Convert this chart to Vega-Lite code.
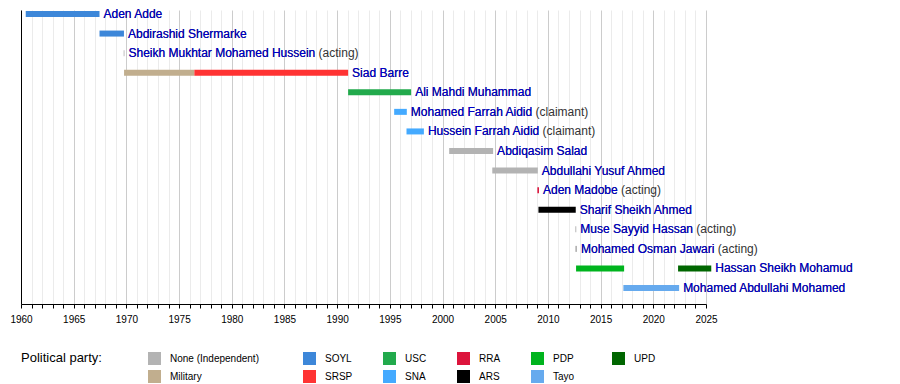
{
  "$schema": "https://vega.github.io/schema/vega-lite/v6.json",
  "width": 685,
  "height": 294,
  "autosize": {"type": "none"},
  "padding": {"left": 21, "top": 10, "right": 194, "bottom": 80},
  "background": "white",
  "config": {"font": "Liberation Sans", "view": {"stroke": null}},
  "datasets": {
    "terms": [
      {"name": "Aden Adde", "party": "SOYL", "start": 1960.45, "end": 1967.45},
      {"name": "Abdirashid Shermarke", "party": "SOYL", "start": 1967.45, "end": 1969.77},
      {"name": "Sheikh Mukhtar Mohamed Hussein", "party": "None (Independent)", "start": 1969.74, "end": 1969.82},
      {"name": "Siad Barre", "party": "Military", "start": 1969.78, "end": 1976.45},
      {"name": "Siad Barre", "party": "SRSP", "start": 1976.45, "end": 1991.04},
      {"name": "Ali Mahdi Muhammad", "party": "USC", "start": 1991.04, "end": 1997.02},
      {"name": "Mohamed Farrah Aidid", "party": "SNA", "start": 1995.41, "end": 1996.61},
      {"name": "Hussein Farrah Aidid", "party": "SNA", "start": 1996.58, "end": 1998.23},
      {"name": "Abdiqasim Salad", "party": "None (Independent)", "start": 2000.63, "end": 2004.8},
      {"name": "Abdullahi Yusuf Ahmed", "party": "None (Independent)", "start": 2004.72, "end": 2009.04},
      {"name": "Aden Madobe", "party": "RRA", "start": 2009.0, "end": 2009.15},
      {"name": "Sharif Sheikh Ahmed", "party": "ARS", "start": 2009.1, "end": 2012.64},
      {"name": "Muse Sayyid Hassan", "party": "None (Independent)", "start": 2012.6, "end": 2012.69},
      {"name": "Mohamed Osman Jawari", "party": "None (Independent)", "start": 2012.6, "end": 2012.76},
      {"name": "Hassan Sheikh Mohamud", "party": "PDP", "start": 2012.67, "end": 2017.23},
      {"name": "Hassan Sheikh Mohamud", "party": "UPD", "start": 2022.35, "end": 2025.5},
      {"name": "Mohamed Abdullahi Mohamed", "party": "Tayo", "start": 2017.16, "end": 2022.45}
    ],
    "people": [
      {"name": "Aden Adde", "full": "Aden Adde", "end": 1967.45},
      {"name": "Abdirashid Shermarke", "full": "Abdirashid Shermarke", "end": 1969.77},
      {"name": "Sheikh Mukhtar Mohamed Hussein", "full": "Sheikh Mukhtar Mohamed Hussein (acting)", "end": 1969.82},
      {"name": "Siad Barre", "full": "Siad Barre", "end": 1991.04},
      {"name": "Ali Mahdi Muhammad", "full": "Ali Mahdi Muhammad", "end": 1997.02},
      {"name": "Mohamed Farrah Aidid", "full": "Mohamed Farrah Aidid (claimant)", "end": 1996.61},
      {"name": "Hussein Farrah Aidid", "full": "Hussein Farrah Aidid (claimant)", "end": 1998.23},
      {"name": "Abdiqasim Salad", "full": "Abdiqasim Salad", "end": 2004.8},
      {"name": "Abdullahi Yusuf Ahmed", "full": "Abdullahi Yusuf Ahmed", "end": 2009.04},
      {"name": "Aden Madobe", "full": "Aden Madobe (acting)", "end": 2009.15},
      {"name": "Sharif Sheikh Ahmed", "full": "Sharif Sheikh Ahmed", "end": 2012.64},
      {"name": "Muse Sayyid Hassan", "full": "Muse Sayyid Hassan (acting)", "end": 2012.69},
      {"name": "Mohamed Osman Jawari", "full": "Mohamed Osman Jawari (acting)", "end": 2012.76},
      {"name": "Hassan Sheikh Mohamud", "full": "Hassan Sheikh Mohamud", "end": 2025.5},
      {"name": "Mohamed Abdullahi Mohamed", "full": "Mohamed Abdullahi Mohamed", "end": 2022.45}
    ]
  },
  "layer": [
    {
      "data": {"name": "terms"},
      "mark": {"type": "bar", "height": 6},
      "encoding": {
        "y": {
          "field": "name", "type": "nominal",
          "scale": {
            "type": "point", "padding": 0.51, "align": 0.2, "round": false,
            "domain": ["Aden Adde", "Abdirashid Shermarke", "Sheikh Mukhtar Mohamed Hussein", "Siad Barre", "Ali Mahdi Muhammad", "Mohamed Farrah Aidid", "Hussein Farrah Aidid", "Abdiqasim Salad", "Abdullahi Yusuf Ahmed", "Aden Madobe", "Sharif Sheikh Ahmed", "Muse Sayyid Hassan", "Mohamed Osman Jawari", "Hassan Sheikh Mohamud", "Mohamed Abdullahi Mohamed"]
          },
          "axis": {"title": null, "labels": false, "ticks": false, "grid": false, "domainColor": "#000000", "domainWidth": 1}
        },
        "x": {
          "field": "start", "type": "quantitative",
          "scale": {"domain": [1960, 2025], "nice": false, "zero": false},
          "axis": {
            "title": null,
            "values": [1960,1961,1962,1963,1964,1965,1966,1967,1968,1969,1970,1971,1972,1973,1974,1975,1976,1977,1978,1979,1980,1981,1982,1983,1984,1985,1986,1987,1988,1989,1990,1991,1992,1993,1994,1995,1996,1997,1998,1999,2000,2001,2002,2003,2004,2005,2006,2007,2008,2009,2010,2011,2012,2013,2014,2015,2016,2017,2018,2019,2020,2021,2022,2023,2024,2025],
            "format": "d",
            "labelExpr": "datum.value % 5 === 0 ? datum.label : ''",
            "labelFontSize": 10,
            "labelColor": "#000000",
            "labelPadding": 6,
            "labelOverlap": false,
            "labelFlush": false,
            "labelBound": false,
            "tickSize": 4,
            "tickColor": "#000000",
            "domainColor": "#000000",
            "grid": true,
            "gridColor": {"condition": {"test": "datum.value % 5 === 0", "value": "#cccccc"}, "value": "#ebebeb"}
          }
        },
        "x2": {"field": "end"},
        "color": {
          "field": "party", "type": "nominal",
          "scale": {
            "domain": ["None (Independent)", "Military", "SOYL", "SRSP", "USC", "SNA", "RRA", "ARS", "PDP", "Tayo", "UPD"],
            "range": ["#b3b3b3", "#c1ae8e", "#3d87d9", "#ff3333", "#22aa4c", "#44aaff", "#dc143c", "#000000", "#00b41e", "#66aaee", "#006600"]
          },
          "legend": {
            "orient": "none",
            "legendX": 0,
            "legendY": 342,
            "columns": 6,
            "title": "Political party:",
            "titleOrient": "left",
            "titleAnchor": "start",
            "titleBaseline": "top",
            "titleFontSize": 13,
            "titleFontWeight": "normal",
            "titleColor": "#000000",
            "titlePadding": 46,
            "symbolType": "square",
            "symbolSize": 169,
            "symbolStrokeWidth": 0,
            "symbolOpacity": 1,
            "labelFontSize": 10,
            "labelColor": "#000000",
            "labelOffset": 9,
            "columnPadding": 30,
            "rowPadding": 5,
            "labelExpr": "datum.label === 'None (Independent)' ? 'None (Independent)\u2800\u2800' : datum.label === 'Tayo' ? 'Tayo\u2800' : datum.label"
          }
        }
      }
    },
    {
      "data": {"name": "people"},
      "mark": {"type": "text", "align": "left", "baseline": "middle", "dx": 4, "fontSize": 12, "color": "#333333"},
      "encoding": {
        "y": {"field": "name", "type": "nominal"},
        "x": {
          "field": "end", "type": "quantitative",
          "axis": {
            "title": null,
            "values": [1960,1961,1962,1963,1964,1965,1966,1967,1968,1969,1970,1971,1972,1973,1974,1975,1976,1977,1978,1979,1980,1981,1982,1983,1984,1985,1986,1987,1988,1989,1990,1991,1992,1993,1994,1995,1996,1997,1998,1999,2000,2001,2002,2003,2004,2005,2006,2007,2008,2009,2010,2011,2012,2013,2014,2015,2016,2017,2018,2019,2020,2021,2022,2023,2024,2025],
            "format": "d",
            "labelExpr": "datum.value % 5 === 0 ? datum.label : ''",
            "labelFontSize": 10,
            "labelColor": "#000000",
            "labelPadding": 6,
            "labelOverlap": false,
            "labelFlush": false,
            "labelBound": false,
            "tickSize": 4,
            "tickColor": "#000000",
            "domainColor": "#000000",
            "grid": true,
            "gridColor": {"condition": {"test": "datum.value % 5 === 0", "value": "#cccccc"}, "value": "#ebebeb"}
          }
        },
        "text": {"field": "full"}
      }
    },
    {
      "data": {"name": "people"},
      "mark": {"type": "text", "align": "left", "baseline": "middle", "dx": 4, "fontSize": 12, "color": "#0000cc"},
      "encoding": {
        "y": {"field": "name", "type": "nominal"},
        "x": {
          "field": "end", "type": "quantitative",
          "axis": {
            "title": null,
            "values": [1960,1961,1962,1963,1964,1965,1966,1967,1968,1969,1970,1971,1972,1973,1974,1975,1976,1977,1978,1979,1980,1981,1982,1983,1984,1985,1986,1987,1988,1989,1990,1991,1992,1993,1994,1995,1996,1997,1998,1999,2000,2001,2002,2003,2004,2005,2006,2007,2008,2009,2010,2011,2012,2013,2014,2015,2016,2017,2018,2019,2020,2021,2022,2023,2024,2025],
            "format": "d",
            "labelExpr": "datum.value % 5 === 0 ? datum.label : ''",
            "labelFontSize": 10,
            "labelColor": "#000000",
            "labelPadding": 6,
            "labelOverlap": false,
            "labelFlush": false,
            "labelBound": false,
            "tickSize": 4,
            "tickColor": "#000000",
            "domainColor": "#000000",
            "grid": true,
            "gridColor": {"condition": {"test": "datum.value % 5 === 0", "value": "#cccccc"}, "value": "#ebebeb"}
          }
        },
        "text": {"field": "name"}
      }
    }
  ]
}
